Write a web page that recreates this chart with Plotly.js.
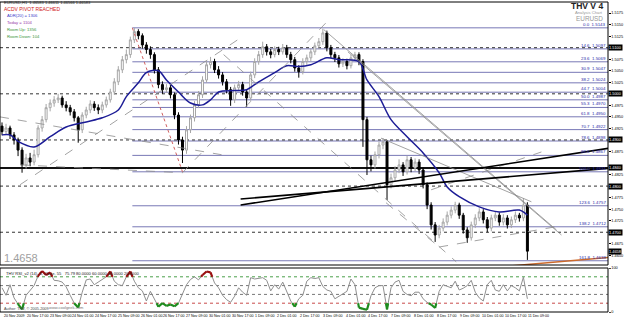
<!DOCTYPE html>
<html><head><meta charset="utf-8">
<script src="https://cdn.plot.ly/plotly-3.0.1.min.js"></script>
<style>html,body{margin:0;padding:0;background:#fff}#chart{width:625px;height:321px}</style>
</head><body><div id="chart"></div>
<script>
// ---- OHLC (EURUSD, ~3h bars, 20 Nov - 11 Dec 2009) ----
const openP = [1.4930,1.4918,1.4926,1.4911,1.4900,1.4878,1.4846,1.4861,1.4852,1.4868,1.4926,1.4944,1.4970,1.4980,1.4987,1.4991,1.4976,1.4970,1.4961,1.4948,1.4922,1.4954,1.4965,1.4978,1.4970,1.4965,1.4976,1.4987,1.5004,1.5026,1.5052,1.5074,1.5085,1.5117,1.5135,1.5126,1.5106,1.5096,1.5085,1.5052,1.5020,1.5009,1.5013,1.4998,1.4954,1.4900,1.4878,1.4922,1.4948,1.4976,1.4998,1.5030,1.5063,1.5070,1.5052,1.5041,1.5026,1.5009,1.4987,1.5013,1.5020,1.5004,1.4991,1.5041,1.5070,1.5085,1.5102,1.5091,1.5085,1.5096,1.5091,1.5100,1.5085,1.5074,1.5056,1.5048,1.5070,1.5078,1.5091,1.5104,1.5113,1.5132,1.5100,1.5085,1.5078,1.5065,1.5070,1.5061,1.5078,1.5085,1.5070,1.4944,1.4857,1.4846,1.4868,1.4889,1.4896,1.4803,1.4818,1.4835,1.4846,1.4831,1.4857,1.4839,1.4852,1.4835,1.4803,1.4759,1.4716,1.4694,1.4709,1.4722,1.4737,1.4748,1.4759,1.4737,1.4705,1.4688,1.4716,1.4731,1.4744,1.4727,1.4709,1.4731,1.4737,1.4722,1.4731,1.4716,1.4727,1.4737,1.4731,1.4759];
const highP = [1.4938,1.4935,1.4931,1.4917,1.4905,1.4884,1.4870,1.4872,1.4879,1.4932,1.4952,1.4978,1.4988,1.4995,1.5000,1.4996,1.4984,1.4976,1.4967,1.4952,1.4960,1.4972,1.4986,1.4984,1.4977,1.4983,1.4994,1.5011,1.5034,1.5060,1.5082,1.5096,1.5124,1.5143,1.5140,1.5131,1.5112,1.5103,1.5090,1.5058,1.5027,1.5021,1.5019,1.5003,1.4960,1.4907,1.4930,1.4955,1.4984,1.5006,1.5038,1.5071,1.5080,1.5076,1.5060,1.5047,1.5032,1.5015,1.5020,1.5028,1.5026,1.5010,1.5048,1.5077,1.5093,1.5113,1.5108,1.5097,1.5103,1.5102,1.5108,1.5106,1.5091,1.5080,1.5062,1.5077,1.5085,1.5098,1.5111,1.5121,1.5141,1.5137,1.5106,1.5091,1.5084,1.5077,1.5076,1.5085,1.5091,1.5090,1.5075,1.4950,1.4866,1.4875,1.4896,1.4904,1.4900,1.4827,1.4843,1.4858,1.4852,1.4866,1.4863,1.4860,1.4858,1.4840,1.4808,1.4765,1.4722,1.4716,1.4730,1.4745,1.4756,1.4766,1.4764,1.4742,1.4711,1.4723,1.4739,1.4752,1.4750,1.4733,1.4738,1.4745,1.4743,1.4739,1.4737,1.4734,1.4745,1.4742,1.4774,1.4765];
const lowP = [1.4910,1.4912,1.4902,1.4890,1.4865,1.4829,1.4838,1.4843,1.4845,1.4862,1.4918,1.4938,1.4962,1.4972,1.4980,1.4970,1.4962,1.4953,1.4940,1.4894,1.4915,1.4947,1.4958,1.4963,1.4956,1.4958,1.4970,1.4981,1.4998,1.5019,1.5045,1.5066,1.5078,1.5110,1.5118,1.5098,1.5087,1.5076,1.5044,1.5012,1.5000,1.5002,1.4990,1.4945,1.4890,1.4850,1.4870,1.4915,1.4940,1.4969,1.4991,1.5024,1.5055,1.5045,1.5033,1.5018,1.5001,1.4974,1.4980,1.5006,1.4996,1.4972,1.4985,1.5034,1.5063,1.5078,1.5083,1.5077,1.5079,1.5084,1.5085,1.5078,1.5066,1.5048,1.5035,1.5042,1.5063,1.5071,1.5084,1.5097,1.5106,1.5092,1.5077,1.5069,1.5057,1.5058,1.5053,1.5055,1.5071,1.5062,1.4885,1.4824,1.4832,1.4838,1.4860,1.4880,1.4770,1.4795,1.4810,1.4828,1.4822,1.4825,1.4830,1.4832,1.4826,1.4795,1.4750,1.4706,1.4679,1.4687,1.4702,1.4715,1.4730,1.4741,1.4729,1.4697,1.4677,1.4682,1.4709,1.4724,1.4719,1.4700,1.4702,1.4724,1.4714,1.4715,1.4708,1.4709,1.4720,1.4723,1.4724,1.4640];
const closeP = [1.4918,1.4926,1.4911,1.4900,1.4878,1.4846,1.4861,1.4852,1.4868,1.4926,1.4944,1.4970,1.4980,1.4987,1.4991,1.4976,1.4970,1.4961,1.4948,1.4922,1.4954,1.4965,1.4978,1.4970,1.4965,1.4976,1.4987,1.5004,1.5026,1.5052,1.5074,1.5085,1.5117,1.5135,1.5126,1.5106,1.5096,1.5085,1.5052,1.5020,1.5009,1.5013,1.4998,1.4954,1.4900,1.4878,1.4922,1.4948,1.4976,1.4998,1.5030,1.5063,1.5070,1.5052,1.5041,1.5026,1.5009,1.4987,1.5013,1.5020,1.5004,1.4991,1.5041,1.5070,1.5085,1.5102,1.5091,1.5085,1.5096,1.5091,1.5100,1.5085,1.5074,1.5056,1.5048,1.5070,1.5078,1.5091,1.5104,1.5113,1.5132,1.5100,1.5085,1.5078,1.5065,1.5070,1.5061,1.5078,1.5085,1.5070,1.4944,1.4857,1.4846,1.4868,1.4889,1.4896,1.4803,1.4818,1.4835,1.4846,1.4831,1.4857,1.4839,1.4852,1.4835,1.4803,1.4759,1.4716,1.4694,1.4709,1.4722,1.4737,1.4748,1.4759,1.4737,1.4705,1.4688,1.4716,1.4731,1.4744,1.4727,1.4709,1.4731,1.4737,1.4722,1.4731,1.4716,1.4727,1.4737,1.4731,1.4759,1.4659];

// ---- moving average readings (bar index, price) ----
const maBar = [0,2,4,8,12,16,21,25,29,31,34,36,39,41,44,47,50,52,54,58,61,64,68,71,74,77,81,84,89,91,94,97,101,105,109,111,114,119,124,129,131];
const maVal = [1.4911,1.4911,1.4897,1.4885,1.4907,1.4928,1.4939,1.4948,1.4965,1.4994,1.5024,1.5046,1.5050,1.5030,1.5004,1.4980,1.4976,1.4987,1.5004,1.5007,1.5009,1.5026,1.5046,1.5061,1.5059,1.5063,1.5078,1.5074,1.5070,1.5030,1.4994,1.4944,1.4907,1.4872,1.4829,1.4798,1.4777,1.4755,1.4744,1.4748,1.4737];

// ---- RSI per bar ----
const rsiVal = [55,38,62,32,18,6,38,50,60,82,93,84,90,72,71,68,57,38,20,10,45,73,75,62,68,74,80,92,70,62,60,80,92,70,55,48,25,47,30,12,20,14,17,13,20,40,62,74,80,73,84,92,90,66,55,38,28,22,36,55,45,38,78,75,76,78,72,48,62,52,68,45,25,12,30,38,70,78,76,78,58,50,47,30,36,42,47,75,62,10,7,5,37,55,60,60,6,55,68,72,47,40,37,45,45,30,22,17,9,47,62,58,55,70,50,54,60,72,45,32,25,62,72,50,47,62,48,60,55,48,79,30];
const rsiLevels = [80,60,40,20];

// ---- Fibonacci retracement ----
const fibHigh = 1.5143, fibLow = 1.4831, fibStartBar = 32.5;
const fibLevels = [0,14.6,23.6,30.9,38.2,44.7,50,55.3,61.8,70.7,78.6,88.6,100,123.6,138.2,161.8];

// ---- horizontal levels ----
const roundLevels = [1.5100,1.5000,1.4900,1.4800,1.4700];
const supportLevel = 1.4839;
const markerPrices = [1.5200,1.5100,1.5000,1.4900,1.4840,1.4800,1.4700,1.4658];
const priceTicks = [1.4650,1.4675,1.4725,1.4750,1.4775,1.4825,1.4875,1.4925,1.4950,1.4975,1.5025,1.5050,1.5075,1.5125,1.5150,1.5175];
const currentPrice = 1.4658;

// ---- drawn objects [bar0, price0, bar1, price1] ----
const dashedLines = [[-0.5,1.4950,54.75,1.4868],[4.5,1.4803,58.75,1.5117],[45,1.4829,82,1.5165],[4.5,1.4846,45,1.4829],[55.25,1.5085,113.25,1.4636],[95.75,1.4764,109,1.4668],[109,1.4668,139.5,1.4714],[107,1.4792,134.5,1.4874]];
const thinLines = [[80.25,1.5139,138.25,1.4705],[86.25,1.5091,139.5,1.4694],[94.5,1.4904,132,1.4766]];
const blackLines = [[59.5,1.4772,152,1.4839],[59.5,1.4759,152,1.4883]];
const fibAnchorLine = [32.5,1.5143,45,1.4831];
const orangeLine = [120.25,1.4622,152,1.4646];

// ---- texts ----
const dateLabels = ["20 Nov 2009","20 Nov 17:00","23 Nov 09:00","24 Nov 01:00","24 Nov 17:00","25 Nov 09:00","26 Nov 01:00","26 Nov 17:00","27 Nov 09:00","30 Nov 01:00","30 Nov 17:00","1 Dec 09:00","2 Dec 01:00","2 Dec 17:00","3 Dec 09:00","4 Dec 01:00","4 Dec 17:00","7 Dec 09:00","8 Dec 01:00","8 Dec 17:00","9 Dec 09:00","10 Dec 01:00","10 Dec 17:00","11 Dec 09:00"];
const barsPerLabel = 5.68;
const headerText = "EURUSD,H1  1.46583 1.46611 1.46566 1.46583";
const pivotText = "ACDV PIVOT REACHED";
const statLines = ["ADR(20) = 1306","Today = 1104","Room Up: 1356","Room Down: 104"];
const rsiHeader = "THV RSI_v2 (14), 5, Close, 55   75.79 80.0000 60.0000 40.0000 20.0000";

// ================= build =================
const F = "Liberation Sans, Arial, sans-serif";
const PW = 608, PH = 310, PBOT = 312;
const px = v => v / PW;
const py = v => (PBOT - v) / PH;
const bars = closeP.map((_, i) => i);
const X1 = 152;

const traces = [];
traces.push({type:'candlestick', x:bars, open:openP, high:highP, low:lowP, close:closeP,
  xaxis:'x', yaxis:'y', whiskerwidth:0,
  increasing:{line:{color:'#a6a6a6', width:1}, fillcolor:'#ffffff'},
  decreasing:{line:{color:'#000000', width:1}, fillcolor:'#000000'},
  hoverinfo:'skip', showlegend:false});
traces.push({type:'scatter', mode:'lines', x:maBar, y:maVal, xaxis:'x', yaxis:'y',
  line:{color:'#1c1c96', width:1.5, shape:'spline', smoothing:0.9}, hoverinfo:'skip', showlegend:false});

function lineTrace(seg, color, width, dash){
  return {type:'scatter', mode:'lines', x:[seg[0],seg[2]], y:[seg[1],seg[3]], xaxis:'x', yaxis:'y',
    line:{color:color, width:width, dash:dash||'solid'}, hoverinfo:'skip', showlegend:false, cliponaxis:true};
}
dashedLines.forEach(s => traces.push(lineTrace(s, '#8c8c8c', 0.8, 'dash')));
thinLines.forEach(s => traces.push(lineTrace(s, '#8c8c8c', 0.8)));
traces.push(lineTrace(fibAnchorLine, '#d06060', 1, 'dot'));
traces.push(lineTrace(orangeLine, '#cc6a2c', 1.5));
blackLines.forEach(s => traces.push(lineTrace(s, '#000000', 1.6)));

// RSI
traces.push({type:'scatter', mode:'lines', x:bars, y:rsiVal, xaxis:'x', yaxis:'y2',
  line:{color:'#8f8f8f', width:1}, hoverinfo:'skip', showlegend:false});
function zoneSegments(vals, thr, above){
  const xs = [], ys = [];
  const pass = v => above ? v >= thr : v <= thr;
  for (let i = 0; i < vals.length - 1; i++){
    const a = vals[i], b = vals[i+1];
    const pa = pass(a), pb = pass(b);
    if (!pa && !pb) continue;
    let x0 = i, y0 = a, x1 = i+1, y1 = b;
    if (!pa){ const t = (thr-a)/(b-a); x0 = i + t; y0 = thr; }
    if (!pb){ const t = (thr-a)/(b-a); x1 = i + t; y1 = thr; }
    xs.push(x0, x1, null); ys.push(y0, y1, null);
  }
  return {xs, ys};
}
const hi = zoneSegments(rsiVal, 80, true), lo = zoneSegments(rsiVal, 20, false);
traces.push({type:'scatter', mode:'lines', x:hi.xs, y:hi.ys, xaxis:'x', yaxis:'y2', connectgaps:false,
  line:{color:'#9a1010', width:2.2}, hoverinfo:'skip', showlegend:false});
traces.push({type:'scatter', mode:'lines', x:lo.xs, y:lo.ys, xaxis:'x', yaxis:'y2', connectgaps:false,
  line:{color:'#1e8c1e', width:2.2}, hoverinfo:'skip', showlegend:false});

const shapes = [];
fibLevels.forEach(L => {
  const p = fibHigh - L/100*(fibHigh - fibLow);
  shapes.push({type:'line', xref:'x', yref:'y', x0:fibStartBar, x1:X1, y0:p, y1:p,
    line:{color:'#7878b6', width:1}, layer:'below'});
});
roundLevels.forEach(p => shapes.push({type:'line', xref:'x', yref:'y', x0:-0.5, x1:X1, y0:p, y1:p,
  line:{color:'#333333', width:1, dash:'dot'}, layer:'below'}));
shapes.push({type:'line', xref:'x', yref:'y', x0:-0.5, x1:X1, y0:supportLevel, y1:supportLevel,
  line:{color:'#111111', width:2}, layer:'below'});
rsiLevels.forEach(v => shapes.push({type:'line', xref:'x', yref:'y2', x0:-0.5, x1:X1, y0:v, y1:v,
  line:{color: v===80 ? '#4aa04a' : (v===20 ? '#c84a4a' : '#777777'), width:1, dash:'dot'}, layer:'below'}));
// panel frames
shapes.push({type:'rect', xref:'paper', yref:'paper', x0:0, x1:1, y0:py(265), y1:1, line:{color:'#000', width:1}});
shapes.push({type:'rect', xref:'paper', yref:'paper', x0:0, x1:1, y0:0, y1:py(268), line:{color:'#000', width:1}});

const ann = [];
const small = (s, c) => ({family:F, size:s, color:c});
fibLevels.forEach(L => {
  const p = fibHigh - L/100*(fibHigh - fibLow);
  ann.push({xref:'x', yref:'y', x:151.0, y:p, text:L.toFixed(1)+'  '+p.toFixed(4), showarrow:false,
    xanchor:'right', yanchor:'bottom', yshift:-1, font:small(4.4,'#2a2aa8')});
});
markerPrices.forEach(p => ann.push({xref:'paper', yref:'y', x:1, y:p, text:p.toFixed(4), showarrow:false,
  xanchor:'left', yanchor:'middle', xshift:0, bgcolor:'#000000', borderpad:0, font:small(3.9,'#ffffff')}));
dateLabels.forEach((t, k) => ann.push({xref:'x', yref:'paper', x:k*barsPerLabel, y:py(316.5), text:t,
  showarrow:false, xanchor:'left', yanchor:'middle', font:small(3.6,'#000000')}));
ann.push({xref:'paper', yref:'paper', x:px(2), y:py(3), text:headerText, showarrow:false, xanchor:'left', yanchor:'middle', font:small(4,'#222')});
ann.push({xref:'paper', yref:'paper', x:px(2), y:py(8.8), text:pivotText, showarrow:false, xanchor:'left', yanchor:'middle', font:{family:F, size:5, color:'#d01818'}});
const statColors = ['#3c3cc8','#9a3aa8','#3a963a','#3a963a'];
statLines.forEach((t, k) => ann.push({xref:'paper', yref:'paper', x:px(5), y:py(15.5 + 7*k), text:t, showarrow:false,
  xanchor:'left', yanchor:'middle', font:small(4.2, statColors[k])}));
ann.push({xref:'paper', yref:'paper', x:px(605), y:py(6), text:'<b>THV V 4</b>', showarrow:false, xanchor:'right', yanchor:'middle', font:small(8.5,'#222')});
ann.push({xref:'paper', yref:'paper', x:px(605), y:py(12.8), text:'Analysis Chart', showarrow:false, xanchor:'right', yanchor:'middle', font:small(4.2,'#999')});
ann.push({xref:'paper', yref:'paper', x:px(605), y:py(19), text:'EURUSD', showarrow:false, xanchor:'right', yanchor:'middle', font:small(6.4,'#999')});
ann.push({xref:'paper', yref:'paper', x:px(2), y:py(257.5), text:currentPrice.toFixed(4), showarrow:false, xanchor:'left', yanchor:'middle', font:small(11,'#a0a0a0')});
ann.push({xref:'paper', yref:'paper', x:px(4), y:py(273.5), text:rsiHeader, showarrow:false, xanchor:'left', yanchor:'middle', font:small(4.1,'#222')});
ann.push({xref:'paper', yref:'paper', x:px(2), y:py(309), text:'Author: THV, © 2005-2009', showarrow:false, xanchor:'left', yanchor:'middle', font:small(3.8,'#444')});
ann.push({xref:'paper', yref:'paper', x:px(47), y:py(307.5), text:'www.coolgeek.com', showarrow:false, xanchor:'left', yanchor:'middle', font:small(4,'#777')});

const layout = {
  width:625, height:321, margin:{l:0, r:17, t:2, b:9},
  paper_bgcolor:'#ffffff', plot_bgcolor:'#ffffff', showlegend:false,
  font:{family:F, size:5, color:'#000'},
  xaxis:{range:[-0.5, 151.1], domain:[0,1], anchor:'y2', showticklabels:false, showgrid:false,
    zeroline:false, showline:false, ticks:'', rangeslider:{visible:false}, fixedrange:true},
  yaxis:{domain:[py(265), 1], range:[1.4629, 1.5199], side:'right', anchor:'x', showgrid:false, zeroline:false,
    tickmode:'array', tickvals:priceTicks, ticktext:priceTicks.map(v => v.toFixed(4)),
    ticks:'outside', ticklen:1.5, tickcolor:'#000', tickfont:{family:F, size:3.9, color:'#000'}, showline:false},
  yaxis2:{domain:[0, py(268)], range:[0, 100], side:'right', anchor:'x', showgrid:false, zeroline:false,
    tickmode:'array', tickvals:[0,100], ticktext:['0','100'], ticks:'outside', ticklen:1.5,
    tickfont:{family:F, size:3.9, color:'#000'}, showline:false},
  shapes:shapes, annotations:ann
};
Plotly.newPlot('chart', traces, layout, {staticPlot:true, displayModeBar:false});
</script>
</body></html>
